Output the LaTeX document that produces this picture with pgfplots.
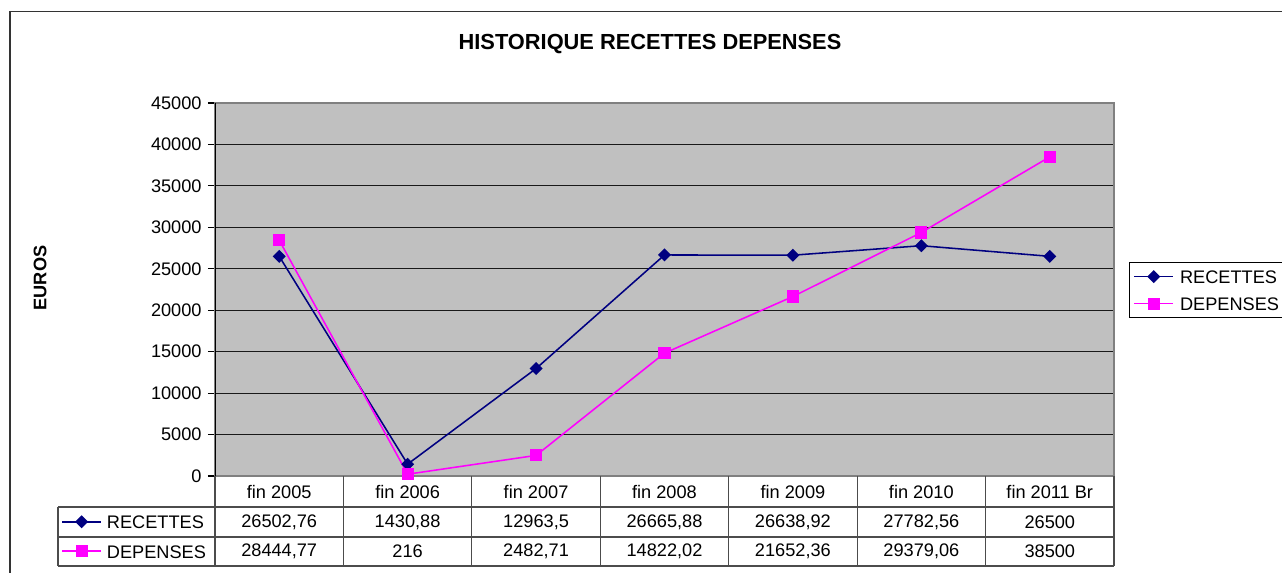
\documentclass[border=0pt]{standalone}
\usepackage{fontspec}
\setmainfont{Liberation Sans}
\usepackage{pgfplots}
\pgfplotsset{compat=1.18}
\definecolor{navyc}{HTML}{000080}
\definecolor{magc}{HTML}{FF00FF}
\definecolor{plotbg}{HTML}{C0C0C0}
\pgfplotsset{
  legimg/.style={legend image code/.code={\draw[mark repeat=2,mark phase=2,##1] plot coordinates {(0cm,0cm) (0.377cm,0cm) (0.755cm,0cm)};}},
  recstyle/.style={navyc, line width=0.85pt, mark=square*, mark size=2.1pt, mark options={solid, rotate=45}},
  depstyle/.style={magc, line width=0.85pt, mark=square*, mark size=2.9pt, mark options={solid}},
}
\begin{document}
\fontsize{10}{12}\selectfont
\begin{tikzpicture}[x=0.55pt,y=-0.55pt]
\useasboundingbox (0,0) rectangle (1282,573);
\draw[black!80, line width=0.9pt] (10,590) -- (10,11.5) -- (1300,11.5);
\node[font=\fontsize{12}{14}\selectfont\bfseries] at (650,44) {HISTORIQUE RECETTES DEPENSES};
\node[font=\fontsize{10}{12}\selectfont\bfseries, rotate=90] at (40,278) {EUROS};
\begin{axis}[
  at={(118.25pt,-261.8pt)}, anchor=south west,
  scale only axis, width=494.45pt, height=205.15pt,
  xmin=-0.5, xmax=6.5, ymin=0, ymax=45000,
  ytick={0,5000,...,45000},
  ytick pos=left,
  xtick={0,...,6},
  xticklabels={fin 2005, fin 2006, fin 2007, fin 2008, fin 2009, fin 2010, fin 2011 Br},
  x tick style={draw=none},
  xticklabel style={anchor=center, yshift=-5.2pt},
  tick align=outside, major tick length=3.85pt,
  y tick style={black, line width=0.6pt},
  ymajorgrids, grid style={black!90, line width=0.6pt},
  axis background/.style={fill=plotbg},
  axis line style={draw=black!50, line width=0.7pt},
  scaled y ticks=false,
  /pgf/number format/.cd, set thousands separator={}, assume math mode=true, /pgfplots/.cd,
  tick label style={font=\fontsize{10}{12}\selectfont},
  legimg,
  legend cell align=left,
  legend style={at={(1.0167,0.5737)}, anchor=north west, draw=black, line width=0.5pt,
    font=\fontsize{10}{12}\selectfont, inner xsep=2.2pt, inner ysep=4pt, row sep=7.35pt,
    nodes={inner sep=0pt, text height=7.5pt, text depth=0pt},
    /tikz/every odd column/.append style={column sep=3.3pt}},
]
\addplot[recstyle] coordinates {(0,26502.76) (1,1430.88) (2,12963.5) (3,26665.88) (4,26638.92) (5,27782.56) (6,26500)};
\addlegendentry{RECETTES}
\addplot[depstyle] coordinates {(0,28444.77) (1,216) (2,2482.71) (3,14822.02) (4,21652.36) (5,29379.06) (6,38500)};
\addlegendentry{DEPENSES}
\draw[black, line width=0.8pt] (rel axis cs:0,0) -- (rel axis cs:0,1);
\end{axis}
\begin{axis}[
  at={(31.9pt,-311.3pt)}, anchor=south west,
  hide axis, scale only axis, width=86.35pt, height=32.45pt,
  xmin=0, xmax=1, ymin=0, ymax=1,
  legimg,
  legend cell align=left,
  legend style={at={(0,0.5)}, anchor=west, draw=none, fill=none,
    font=\fontsize{10}{12}\selectfont, inner xsep=1.65pt, inner ysep=0pt, row sep=8.7pt,
    nodes={inner sep=0pt, text height=7.5pt, text depth=0pt},
    /tikz/every odd column/.append style={column sep=2.75pt}},
]
\addlegendimage{recstyle}
\addlegendentry{RECETTES}
\addlegendimage{depstyle}
\addlegendentry{DEPENSES}
\end{axis}
% data table grid
\draw[black!70, line width=0.6pt] (58,507) -- (1114,507) (58,537) -- (1114,537) (58,566) -- (1114,566) (58,507) -- (58,566);
\foreach \x in {215,343.43,471.86,600.29,728.71,857.14,985.57,1114}
  \draw[black!70, line width=0.6pt] (\x,476) -- (\x,566);
% data table values
\node at (279.2,522) {26502,76};
\node at (407.6,522) {1430,88};
\node at (536.1,522) {12963,5};
\node at (664.5,522) {26665,88};
\node at (792.9,522) {26638,92};
\node at (921.4,522) {27782,56};
\node at (1049.8,522) {26500};
\node at (279.2,551.5) {28444,77};
\node at (407.6,551.5) {216};
\node at (536.1,551.5) {2482,71};
\node at (664.5,551.5) {14822,02};
\node at (792.9,551.5) {21652,36};
\node at (921.4,551.5) {29379,06};
\node at (1049.8,551.5) {38500};
\end{tikzpicture}
\end{document}
